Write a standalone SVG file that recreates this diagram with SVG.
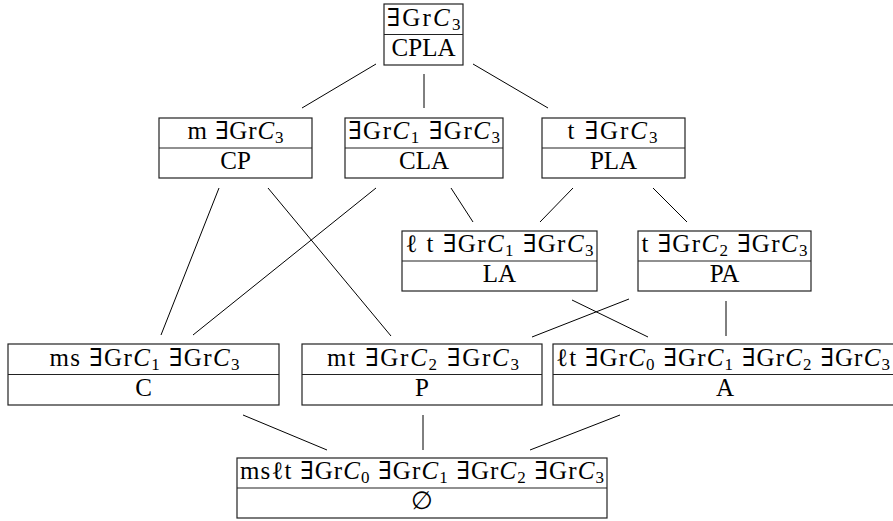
<svg xmlns="http://www.w3.org/2000/svg" width="893" height="521" viewBox="0 0 893 521">
<style>
.box{fill:#fff;stroke:#222;stroke-width:1.2}
.sep{stroke:#222;stroke-width:1.2}
.e{stroke:#000;stroke-width:1;fill:none}
text{font-family:"Liberation Serif","DejaVu Serif",serif;font-size:25px;fill:#000;text-anchor:middle}
.i{font-style:italic}
.s{font-size:17px}
</style>
<rect width="893" height="521" fill="#fff"/>
<g id="connectors">
<line class="e" x1="376" y1="64" x2="302" y2="108"/>
<line class="e" x1="424" y1="74" x2="424" y2="108"/>
<line class="e" x1="473" y1="64" x2="548" y2="108"/>
<line class="e" x1="219" y1="188" x2="161" y2="335"/>
<line class="e" x1="268" y1="188" x2="391" y2="336"/>
<line class="e" x1="376" y1="188" x2="193" y2="335"/>
<line class="e" x1="451" y1="188" x2="473" y2="222"/>
<line class="e" x1="573" y1="188" x2="540" y2="222"/>
<line class="e" x1="653" y1="188" x2="687" y2="222"/>
<line class="e" x1="572" y1="300" x2="648" y2="337"/>
<line class="e" x1="629" y1="299" x2="532" y2="337"/>
<line class="e" x1="726" y1="301" x2="726" y2="336"/>
<line class="e" x1="243" y1="415" x2="327" y2="450"/>
<line class="e" x1="423" y1="415" x2="423" y2="450"/>
<line class="e" x1="620" y1="415" x2="530" y2="450"/>
</g>
<g id="CPLA">
<rect class="box" x="384" y="4" width="79" height="61"/>
<line class="sep" x1="384" y1="34.5" x2="463" y2="34.5"/>
<text x="423.5" y="26" textLength="74" lengthAdjust="spacing">∃Gr<tspan class="i">C</tspan><tspan class="s" dy="4">3</tspan></text>
<text x="423.5" y="56">CPLA</text>
</g>
<g id="CP">
<rect class="box" x="159" y="118" width="153" height="60"/>
<line class="sep" x1="159" y1="148" x2="312" y2="148"/>
<text x="235.5" y="139" textLength="96" lengthAdjust="spacing">m ∃Gr<tspan class="i">C</tspan><tspan class="s" dy="4">3</tspan></text>
<text x="235.5" y="169">CP</text>
</g>
<g id="CLA">
<rect class="box" x="345" y="118" width="158" height="60"/>
<line class="sep" x1="345" y1="148" x2="503" y2="148"/>
<text x="424" y="139" textLength="152" lengthAdjust="spacing">∃Gr<tspan class="i">C</tspan><tspan class="s" dy="4">1</tspan><tspan dy="-4"> ∃Gr</tspan><tspan class="i">C</tspan><tspan class="s" dy="4">3</tspan></text>
<text x="424" y="169">CLA</text>
</g>
<g id="PLA">
<rect class="box" x="542" y="118" width="143" height="60"/>
<line class="sep" x1="542" y1="148" x2="685" y2="148"/>
<text x="612.5" y="139" textLength="90" lengthAdjust="spacing">t ∃Gr<tspan class="i">C</tspan><tspan class="s" dy="4">3</tspan></text>
<text x="613.5" y="169">PLA</text>
</g>
<g id="LA">
<rect class="box" x="402" y="231" width="195" height="60"/>
<line class="sep" x1="402" y1="261" x2="597" y2="261"/>
<text x="499.5" y="252" textLength="188" lengthAdjust="spacing">ℓ t ∃Gr<tspan class="i">C</tspan><tspan class="s" dy="4">1</tspan><tspan dy="-4"> ∃Gr</tspan><tspan class="i">C</tspan><tspan class="s" dy="4">3</tspan></text>
<text x="499.5" y="282">LA</text>
</g>
<g id="PA">
<rect class="box" x="638" y="231" width="173" height="60"/>
<line class="sep" x1="638" y1="261" x2="811" y2="261"/>
<text x="724.5" y="252" textLength="166" lengthAdjust="spacing">t ∃Gr<tspan class="i">C</tspan><tspan class="s" dy="4">2</tspan><tspan dy="-4"> ∃Gr</tspan><tspan class="i">C</tspan><tspan class="s" dy="4">3</tspan></text>
<text x="724.5" y="282">PA</text>
</g>
<g id="C">
<rect class="box" x="8" y="344" width="271" height="61"/>
<line class="sep" x1="8" y1="374.5" x2="279" y2="374.5"/>
<text x="144.5" y="366" textLength="190" lengthAdjust="spacing">ms ∃Gr<tspan class="i">C</tspan><tspan class="s" dy="4">1</tspan><tspan dy="-4"> ∃Gr</tspan><tspan class="i">C</tspan><tspan class="s" dy="4">3</tspan></text>
<text x="143.5" y="396">C</text>
</g>
<g id="P">
<rect class="box" x="302" y="344" width="240" height="61"/>
<line class="sep" x1="302" y1="374.5" x2="542" y2="374.5"/>
<text x="423" y="366" textLength="192" lengthAdjust="spacing">mt ∃Gr<tspan class="i">C</tspan><tspan class="s" dy="4">2</tspan><tspan dy="-4"> ∃Gr</tspan><tspan class="i">C</tspan><tspan class="s" dy="4">3</tspan></text>
<text x="422" y="396">P</text>
</g>
<g id="A">
<rect class="box" x="553" y="344" width="345" height="61"/>
<line class="sep" x1="553" y1="374.5" x2="898" y2="374.5"/>
<text x="723" y="366" textLength="334" lengthAdjust="spacing">ℓt ∃Gr<tspan class="i">C</tspan><tspan class="s" dy="4">0</tspan><tspan dy="-4"> ∃Gr</tspan><tspan class="i">C</tspan><tspan class="s" dy="4">1</tspan><tspan dy="-4"> ∃Gr</tspan><tspan class="i">C</tspan><tspan class="s" dy="4">2</tspan><tspan dy="-4"> ∃Gr</tspan><tspan class="i">C</tspan><tspan class="s" dy="4">3</tspan></text>
<text x="725" y="396">A</text>
</g>
<g id="bottom">
<rect class="box" x="237" y="458" width="370" height="60"/>
<line class="sep" x1="237" y1="488" x2="607" y2="488"/>
<text x="422" y="479" textLength="364" lengthAdjust="spacing">msℓt ∃Gr<tspan class="i">C</tspan><tspan class="s" dy="4">0</tspan><tspan dy="-4"> ∃Gr</tspan><tspan class="i">C</tspan><tspan class="s" dy="4">1</tspan><tspan dy="-4"> ∃Gr</tspan><tspan class="i">C</tspan><tspan class="s" dy="4">2</tspan><tspan dy="-4"> ∃Gr</tspan><tspan class="i">C</tspan><tspan class="s" dy="4">3</tspan></text>
<text x="422" y="509">∅</text>
</g>
</svg>
